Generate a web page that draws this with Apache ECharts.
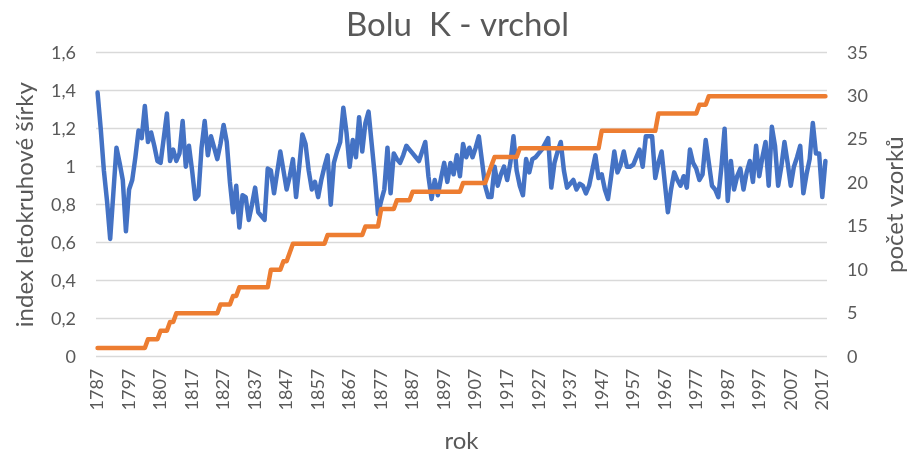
<!DOCTYPE html>
<html>
<head>
<meta charset="utf-8">
<script src="https://cdn.jsdelivr.net/npm/echarts@6/dist/echarts.min.js"></script>
<style>
  html, body { margin: 0; padding: 0; background: #fff; }
  #chart { width: 915px; height: 459px; }
</style>
</head>
<body>
<div id="chart"></div>
<script>
// years 1787 .. 2018
const years = [];
for (let y = 1787; y <= 2018; y++) years.push(String(y));

// index letokruhové šírky
const indexValues = [
  1.39, 1.20, 0.98, 0.82, 0.62, 0.86, 1.10, 1.02, 0.93, 0.66,
  0.88, 0.93, 1.05, 1.19, 1.15, 1.32, 1.13, 1.18, 1.11, 1.03,
  1.02, 1.15, 1.28, 1.03, 1.09, 1.03, 1.07, 1.24, 1.00, 1.11,
  0.98, 0.83, 0.85, 1.10, 1.24, 1.06, 1.16, 1.10, 1.04, 1.12,
  1.22, 1.13, 0.92, 0.76, 0.90, 0.68, 0.85, 0.84, 0.72, 0.80,
  0.89, 0.76, 0.74, 0.72, 0.99, 0.98, 0.86, 0.97, 1.08, 0.98,
  0.88, 0.95, 1.04, 0.84, 1.00, 1.17, 1.12, 0.98, 0.88, 0.92,
  0.84, 0.93, 1.00, 1.06, 0.80, 1.02, 1.08, 1.13, 1.31, 1.18,
  1.00, 1.14, 1.05, 1.26, 1.08, 1.23, 1.29, 1.12, 0.95, 0.75,
  0.82, 0.88, 1.10, 0.86, 1.07, 1.04, 1.02, 1.06, 1.11, 1.09,
  1.07, 1.05, 1.03, 1.08, 1.13, 0.95, 0.83, 0.93, 0.85, 0.94,
  1.02, 0.92, 1.02, 0.96, 1.06, 0.95, 1.12, 1.05, 1.10, 1.05,
  1.10, 1.16, 1.03, 0.90, 0.84, 0.84, 1.00, 0.90, 0.96, 1.00,
  0.93, 1.02, 1.16, 0.98, 0.90, 0.85, 1.04, 0.97, 1.04, 1.05,
  1.07, 1.09, 1.12, 1.15, 0.89, 1.02, 1.08, 1.13, 0.98, 0.89,
  0.91, 0.93, 0.88, 0.91, 0.90, 0.86, 0.90, 0.98, 1.06, 0.94,
  0.96, 0.88, 0.83, 0.95, 1.08, 0.97, 1.01, 1.08, 1.00, 1.00,
  1.01, 1.05, 1.09, 1.00, 1.16, 1.16, 1.16, 0.94, 1.02, 1.08,
  0.92, 0.76, 0.88, 0.97, 0.93, 0.90, 0.95, 0.89, 1.09, 1.02,
  0.99, 0.93, 0.96, 1.14, 1.02, 0.90, 0.88, 0.84, 1.00, 1.20,
  0.82, 1.03, 0.88, 0.95, 0.99, 0.88, 0.97, 1.03, 0.92, 1.11,
  0.95, 1.05, 1.13, 0.90, 1.21, 1.11, 0.90, 1.00, 1.13, 1.02,
  0.90, 1.00, 1.05, 1.11, 0.86, 0.96, 1.04, 1.23, 1.07, 1.07,
  0.84, 1.03
];

// počet vzorků
const sampleCount = [
  1, 1, 1, 1, 1, 1, 1, 1, 1, 1,
  1, 1, 1, 1, 1, 1, 2, 2, 2, 2,
  3, 3, 3, 4, 4, 5, 5, 5, 5, 5,
  5, 5, 5, 5, 5, 5, 5, 5, 5, 6,
  6, 6, 6, 7, 7, 8, 8, 8, 8, 8,
  8, 8, 8, 8, 8, 10, 10, 10, 10, 11,
  11, 12, 13, 13, 13, 13, 13, 13, 13, 13,
  13, 13, 13, 14, 14, 14, 14, 14, 14, 14,
  14, 14, 14, 14, 14, 15, 15, 15, 15, 15,
  17, 17, 17, 17, 17, 18, 18, 18, 18, 18,
  19, 19, 19, 19, 19, 19, 19, 19, 19, 19,
  19, 19, 19, 19, 19, 19, 20, 20, 20, 20,
  20, 20, 20, 20, 21, 22, 23, 23, 23, 23,
  23, 23, 23, 23, 24, 24, 24, 24, 24, 24,
  24, 24, 24, 24, 24, 24, 24, 24, 24, 24,
  24, 24, 24, 24, 24, 24, 24, 24, 24, 24,
  26, 26, 26, 26, 26, 26, 26, 26, 26, 26,
  26, 26, 26, 26, 26, 26, 26, 26, 28, 28,
  28, 28, 28, 28, 28, 28, 28, 28, 28, 28,
  28, 29, 29, 29, 30, 30, 30, 30, 30, 30,
  30, 30, 30, 30, 30, 30, 30, 30, 30, 30,
  30, 30, 30, 30, 30, 30, 30, 30, 30, 30,
  30, 30, 30, 30, 30, 30, 30, 30, 30, 30,
  30, 30
];

const textColor = '#595959';
const fontFamily = 'Lato, "Noto Sans", sans-serif';

const chart = echarts.init(document.getElementById('chart'));
chart.setOption({
  animation: false,
  textStyle: { fontFamily: fontFamily, color: textColor },
  title: {
    text: 'Bolu  K - vrchol',
    left: 'center',
    top: 4,
    textStyle: { fontFamily: fontFamily, fontSize: 33, fontWeight: 'normal', color: textColor }
  },
  grid: { left: 96, right: 83, top: 52.7, bottom: 102.3 },
  xAxis: {
    type: 'category',
    data: years,
    boundaryGap: true,
    name: 'rok',
    nameLocation: 'middle',
    nameGap: 73,
    nameTextStyle: { fontSize: 24, color: textColor },
    axisLine: { show: false },
    axisTick: { show: false },
    axisLabel: { interval: 9, rotate: 90, fontSize: 18, color: textColor, margin: 12 }
  },
  yAxis: [
    {
      type: 'value',
      min: 0,
      max: 1.6,
      interval: 0.2,
      name: 'index letokruhové šírky',
      nameLocation: 'middle',
      nameRotate: 90,
      nameGap: 59,
      nameTextStyle: { fontSize: 24, color: textColor },
      axisLine: { show: false },
      axisTick: { show: false },
      axisLabel: {
        fontSize: 18,
        color: textColor,
        margin: 20,
        formatter: v => (Math.round(v * 10) / 10).toString().replace('.', ',')
      },
      splitLine: { lineStyle: { color: '#d9d9d9', width: 1.3 } }
    },
    {
      type: 'value',
      min: 0,
      max: 35,
      interval: 5,
      name: 'počet vzorků',
      nameLocation: 'middle',
      nameRotate: 90,
      nameGap: 56,
      nameTextStyle: { fontSize: 24, color: textColor },
      axisLine: { show: false },
      axisTick: { show: false },
      axisLabel: { fontSize: 18, color: textColor, margin: 20 },
      splitLine: { show: false }
    }
  ],
  series: [
    {
      name: 'index',
      type: 'line',
      data: indexValues,
      yAxisIndex: 0,
      symbol: 'none',
      lineStyle: { color: '#4472c4', width: 4.5, cap: 'round', join: 'round' }
    },
    {
      name: 'počet vzorků',
      type: 'line',
      data: sampleCount,
      yAxisIndex: 1,
      symbol: 'none',
      lineStyle: { color: '#ed7d31', width: 4.5, cap: 'round', join: 'round' }
    }
  ]
});
</script>
</body>
</html>
